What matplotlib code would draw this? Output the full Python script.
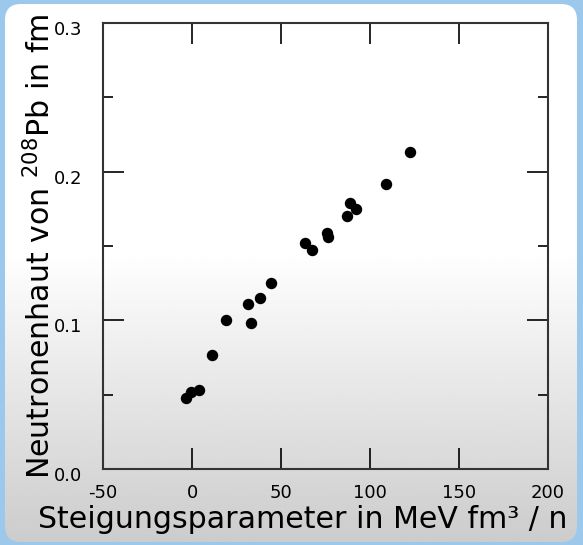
import numpy as np
import matplotlib.pyplot as plt
import matplotlib.transforms as mtransforms
from matplotlib.patches import FancyBboxPatch
from matplotlib.ticker import MultipleLocator

# Steigungsparameter L (MeV fm^3 / n) vs. neutron skin of 208Pb (fm)
slope = [-3.4, -0.7, 4.1, 11.4, 19.3, 31.3, 33.1, 38.2, 44.2, 63.5,
         67.4, 76.0, 76.4, 87.3, 89.0, 92.3, 109.0, 122.5]
skin = [0.048, 0.052, 0.053, 0.077, 0.100, 0.111, 0.098, 0.115, 0.125, 0.152,
        0.147, 0.159, 0.156, 0.170, 0.179, 0.175, 0.192, 0.213]

xticks = [-50, 0, 50, 100, 150, 200]
xticklabels = ['-50', '0', '50', '100', '150', '200']
yticks = [0.0, 0.1, 0.2, 0.3]

fig = plt.figure(figsize=(5.83, 5.45), dpi=100)
fig.patch.set_facecolor('#9cc8ec')

# rounded box with white-to-grey gradient behind the plot
bg = fig.add_axes([0, 0, 1, 1], zorder=-1)
bg.set_xlim(0, 583)
bg.set_ylim(545, 0)
bg.axis('off')
box = FancyBboxPatch((5, 4), 572, 538, boxstyle='round,pad=0,rounding_size=16',
                     facecolor='none', edgecolor='none')
bg.add_patch(box)
h = np.linspace(0, 1, 300)
shade = np.where(h < 0.46, 1.0, 1.0 - (h - 0.46) / 0.54 * 0.2)
grad = np.tile(shade[:, None], (1, 2))
im = bg.imshow(grad, cmap='gray', vmin=0, vmax=1, extent=[5, 577, 542, 4],
               aspect='auto', interpolation='bilinear')
im.set_clip_path(box)

ax = fig.add_axes([103 / 583, 1 - 469 / 545, 445 / 583, 446 / 545])
ax.patch.set_alpha(0)
ax.scatter(slope, skin, s=52, color='black', zorder=3)

ax.set_xlim(-50, 200)
ax.set_ylim(0, 0.3)
ax.set_xticks(xticks)
ax.set_xticklabels(xticklabels)
ax.set_yticks(yticks)
ax.yaxis.set_minor_locator(MultipleLocator(0.05))
ax.tick_params(which='major', direction='in', length=15, width=1.2,
               top=True, right=True, labelsize=13)
ax.tick_params(axis='y', which='minor', direction='in', length=7, width=1.2,
               left=True, right=True)
ax.tick_params(axis='x', which='major', pad=11)
ax.tick_params(axis='y', which='major', pad=15)
for sp in ax.spines.values():
    sp.set_linewidth(1.5)
    sp.set_color('#333333')

# y tick labels sit a little below their ticks
shift = mtransforms.ScaledTranslation(0, -5 / 100, fig.dpi_scale_trans)
for lab in ax.get_yticklabels():
    lab.set_transform(lab.get_transform() + shift)

ax.set_ylabel('Neutronenhaut von $\\mathregular{^{208}}$Pb in fm', fontsize=21.6, labelpad=-2)
fig.text(303 / 583, 1 - 528 / 545, 'Steigungsparameter in MeV fm³ / n',
         fontsize=21.6, ha='center', va='baseline')

fig.savefig('out.png', dpi=100, facecolor=fig.get_facecolor())
